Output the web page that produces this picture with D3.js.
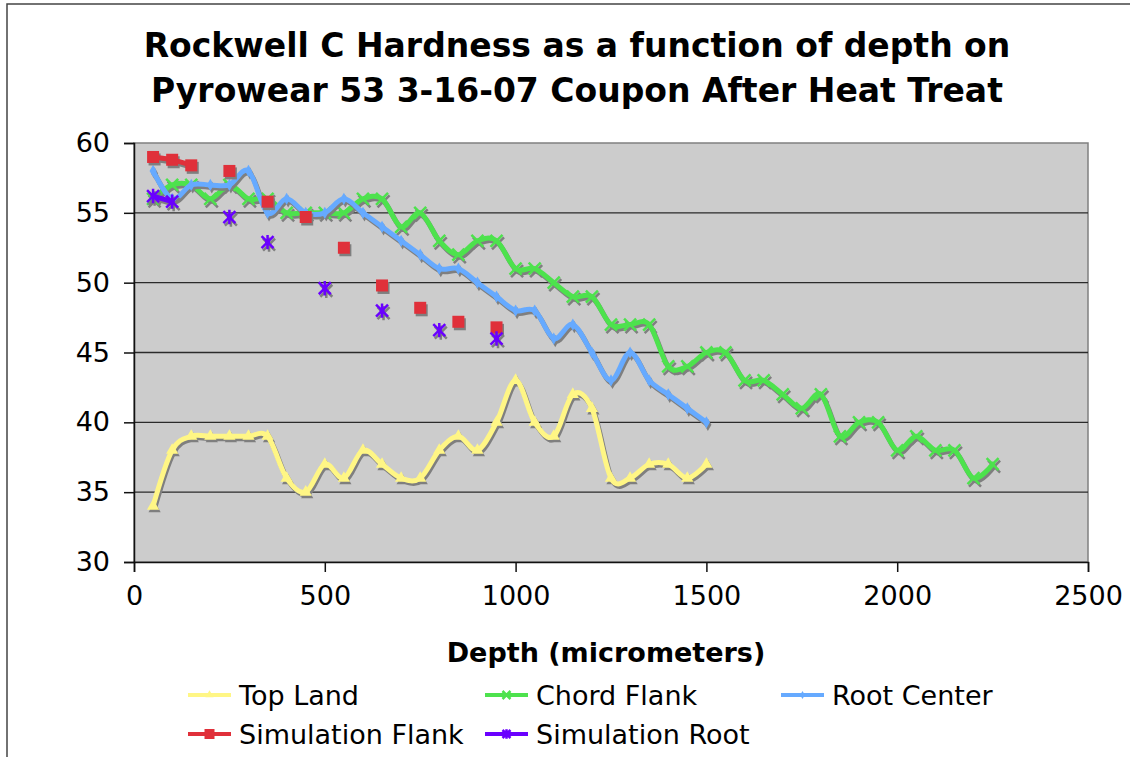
<!DOCTYPE html>
<html>
<head>
<meta charset="utf-8">
<script src="https://cdn.jsdelivr.net/npm/d3@7"></script>
<style>
  html, body { margin: 0; padding: 0; background: #fff; }
  svg { display: block; font-family: "DejaVu Sans", Verdana, sans-serif; }
</style>
</head>
<body>
<div id="chart"></div>
<script>
// Data (depth in micrometers, hardness HRC)
const depthsShort = [50,100,150,200,250,300,350,400,450,500,550,600,650,700,750,800,850,900,950,1000,
  1050,1100,1150,1200,1250,1300,1350,1400,1450,1500];
const depthsLong = depthsShort.concat([1550,1600,1650,1700,1750,1800,1850,1900,1950,2000,2050,2100,2150,2200,2250]);

const topLand = [34,38,39,39,39,39,39,36,35,37,36,38,37,36,36,38,39,38,40,43,40,39,42,41,36,36,37,37,36,37];
const chordFlank = [56,57,57,56,57,56,56,55,55,55,55,56,56,54,55,53,52,53,53,51,51,50,49,49,47,47,47,44,44,45,
  45,43,43,42,41,42,39,40,40,38,39,38,38,36,37];
const rootCenter = [58,56,57,57,57,58,55,56,55,55,56,55,54,53,52,51,51,50,49,48,48,46,47,45,43,45,43,42,41,40];

const simFlankDepth = [50,100,150,250,350,450,550,650,750,850,950];
const simFlank = [59.0,58.8,58.4,58.0,55.8,54.7,52.5,49.8,48.2,47.2,46.8];
const simRootDepth = [50,100,250,350,500,650,800,950];
const simRoot = [56.2,55.8,54.7,52.9,49.6,48.0,46.6,46.0];

const xTicks = [0,500,1000,1500,2000,2500];
const yTicks = [30,35,40,45,50,55,60];

const titleLines = ["Rockwell C Hardness as a function of depth on", "Pyrowear 53 3-16-07 Coupon After Heat Treat"];

// series setup
const series = [
  { name: "Top Land", color: "#fff685", symbol: "triangle", xs: depthsShort, ys: topLand },
  { name: "Chord Flank", color: "#4de24d", symbol: "x", xs: depthsLong, ys: chordFlank },
  { name: "Root Center", color: "#66aaff", symbol: "diamond", xs: depthsShort, ys: rootCenter },
  { name: "Simulation Flank", color: "#e0303a", symbol: "square", xs: simFlankDepth, ys: simFlank },
  { name: "Simulation Root", color: "#6a00ff", symbol: "asterisk", xs: simRootDepth, ys: simRoot }
];

const width = 1130, height = 757;
const plot = { left: 134, right: 1088, top: 143, bottom: 562 };

const svg = d3.select("#chart").append("svg")
  .attr("width", width)
  .attr("height", height);

// outer frame (only left & top visible)
svg.append("path")
  .attr("d", `M7,${height + 5}V4H${width + 5}`)
  .attr("fill", "none")
  .attr("stroke", "#444")
  .attr("stroke-width", 1.5);

const x = d3.scaleLinear().domain([0, 2500]).range([plot.left, plot.right]);
const y = d3.scaleLinear().domain([30, 60]).range([plot.bottom, plot.top]);

// plot area
svg.append("rect")
  .attr("x", plot.left).attr("y", plot.top)
  .attr("width", plot.right - plot.left).attr("height", plot.bottom - plot.top)
  .attr("fill", "#cccccc")
  .attr("stroke", "#808080")
  .attr("stroke-width", 1.5);

// gridlines
svg.append("g").selectAll("line")
  .data(yTicks.filter(v => v > 30 && v < 60))
  .enter().append("line")
  .attr("x1", plot.left).attr("x2", plot.right)
  .attr("y1", d => y(d)).attr("y2", d => y(d))
  .attr("stroke", "#2a2a2a")
  .attr("stroke-width", 1.3);

// axes
const yAxis = d3.axisLeft(y).tickValues(yTicks).tickSize(10).tickFormat(d3.format("d"));
const xAxis = d3.axisBottom(x).tickValues(xTicks).tickSize(10).tickFormat(d3.format("d"));

const gy = svg.append("g").attr("transform", `translate(${plot.left},0)`).call(yAxis);
const gx = svg.append("g").attr("transform", `translate(0,${plot.bottom})`).call(xAxis);
[gx, gy].forEach(g => {
  g.select(".domain").attr("stroke", "#111").attr("stroke-width", 1.5);
  g.selectAll(".tick line").attr("stroke", "#111").attr("stroke-width", 1.5);
  g.selectAll(".tick text")
    .attr("font-family", "DejaVu Sans, Verdana, sans-serif")
    .attr("font-size", 27)
    .attr("fill", "#000");
});
gy.selectAll(".tick text").attr("x", -24);
gx.selectAll(".tick text").attr("dy", "0.71em").attr("y", 24);

// title
svg.append("g").selectAll("text")
  .data(titleLines)
  .enter().append("text")
  .attr("x", 577)
  .attr("y", (d, i) => 57 + i * 45)
  .attr("text-anchor", "middle")
  .attr("font-size", 33)
  .attr("font-weight", "bold")
  .text(d => d);

svg.append("text")
  .attr("x", 606).attr("y", 662)
  .attr("text-anchor", "middle")
  .attr("font-size", 27)
  .attr("font-weight", "bold")
  .text("Depth (micrometers)");

// marker shapes
function markerPath(kind, s) {
  if (kind === "triangle") return d3.symbol(d3.symbolTriangle, s * s * 0.45)();
  if (kind === "diamond") return d3.symbol(d3.symbolDiamond, s * s * 0.3)();
  if (kind === "square") return d3.symbol(d3.symbolSquare, s * s * 1.0)();
  const h = s / 2;
  if (kind === "x") return `M${-h},${-h}L${h},${h}M${-h},${h}L${h},${-h}`;
  // asterisk
  return `M${-h},${-h}L${h},${h}M${-h},${h}L${h},${-h}M0,${-h * 1.2}L0,${h * 1.2}`;
}

function drawMarker(g, kind, color, cx, cy, s) {
  const stroked = kind === "x" || kind === "asterisk";
  g.append("path")
    .attr("transform", `translate(${cx},${cy})`)
    .attr("d", markerPath(kind, s))
    .attr("fill", stroked ? "none" : color)
    .attr("stroke", color)
    .attr("stroke-width", stroked ? 2.5 : 0);
}

const plotG = svg.append("g");

series.forEach(sr => {
  const pts = sr.xs.map((d, i) => ({ x: d, y: sr.ys[i] }));
  // break the line where points are not neighbours (step of 50)
  const withGaps = [];
  pts.forEach((p, i) => {
    if (i > 0 && p.x - pts[i - 1].x > 50) withGaps.push(null);
    withGaps.push(p);
  });
  const line = d3.line()
    .defined(d => d !== null)
    .x(d => x(d.x)).y(d => y(d.y))
    .curve(d3.curveCatmullRom.alpha(0));

  const shadow = plotG.append("g").attr("transform", "translate(1.5,2.5)");
  const main = plotG.append("g");
  const ms = sr.symbol === "square" ? 12 : 12;

  shadow.append("path").attr("d", line(withGaps))
    .attr("fill", "none").attr("stroke", "#7f7f7f").attr("stroke-width", 5)
    .attr("stroke-linejoin", "round").attr("stroke-linecap", "round");
  pts.forEach(p => drawMarker(shadow, sr.symbol, "#7f7f7f", x(p.x), y(p.y), ms));

  main.append("path").attr("d", line(withGaps))
    .attr("fill", "none").attr("stroke", sr.color).attr("stroke-width", 5)
    .attr("stroke-linejoin", "round").attr("stroke-linecap", "round");
  pts.forEach(p => drawMarker(main, sr.symbol, sr.color, x(p.x), y(p.y), ms));
});

// legend
const legendPos = [
  { lx: 188, ly: 695 }, { lx: 485, ly: 695 }, { lx: 781, ly: 695 },
  { lx: 188, ly: 734 }, { lx: 485, ly: 734 }
];
const legend = svg.append("g");
series.forEach((sr, i) => {
  const p = legendPos[i];
  const g = legend.append("g");
  g.append("line")
    .attr("x1", p.lx).attr("x2", p.lx + 43)
    .attr("y1", p.ly).attr("y2", p.ly)
    .attr("stroke", sr.color).attr("stroke-width", 4);
  drawMarker(g, sr.symbol, sr.color, p.lx + 21.5, p.ly, sr.symbol === "square" ? 10 : 8);
  g.append("text")
    .attr("x", p.lx + 51).attr("y", p.ly + 10)
    .attr("font-size", 27)
    .text(sr.name);
});
</script>
</body>
</html>
